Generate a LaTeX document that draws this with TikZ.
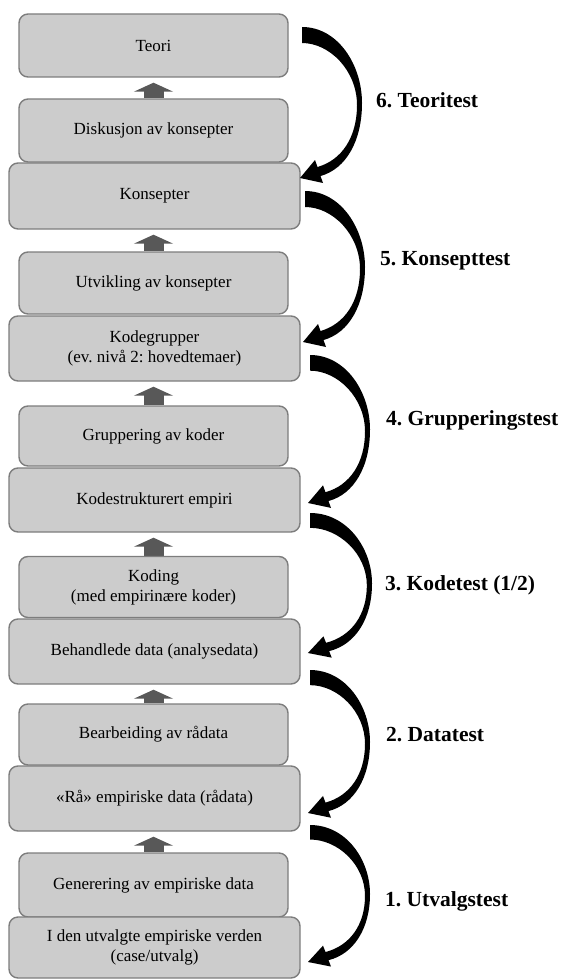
\documentclass[tikz,border=0pt]{standalone}
\usepackage{fontspec}
\setmainfont{Liberation Serif}
\usetikzlibrary{arrows.meta,calc,backgrounds}
\frenchspacing
\definecolor{boxfill}{RGB}{204,204,204}
\definecolor{boxline}{RGB}{125,125,125}
\definecolor{uparr}{RGB}{88,88,88}
\tikzset{
 stepbox/.style={draw=boxline, fill=boxfill, line width=1.4pt, rounded corners=9pt, align=center, font=\fontsize{17}{20}\selectfont, inner sep=0pt},
 narrowbox/.style={stepbox, minimum width=269pt, minimum height=62pt},
 widebox/.style={stepbox, minimum width=291pt, minimum height=65pt},
 uparrow/.style={draw=uparr, line width=20pt, -{Triangle[width=39pt,length=9pt]}, shorten >=5pt},
 testlabel/.style={anchor=base west, font=\bfseries\fontsize{21.5}{24}\selectfont, inner sep=0pt},
 bigarrow/.style={fill=black}
}
\newcommand\bigcurve[4]{%
 \pgfmathsetmacro\bcsx{(#4-#1)/60}%
 \pgfmathsetmacro\bcsy{(#3-#2)/151}%
 \fill[bigarrow, shift={(#1,#2)}, xscale=\bcsx, yscale=\bcsy]
  (0,0) .. controls (36,0) and (60,38) .. (60,76)
  .. controls (60,114) and (44,142) .. (18.5,149)
  -- (21,156) -- (-2,151) -- (13,133) -- (15.5,140)
  .. controls (40,133) and (55,110) .. (55,78)
  .. controls (55,44) and (28,16) .. (0,16) -- cycle;}
\begin{document}
\begin{tikzpicture}[x=1pt,y=-1pt]
\useasboundingbox (0,0) rectangle (565,979);
% narrow boxes
\node[narrowbox, minimum height=63pt] (teori) at (153.5,45.5) {Teori};
\node[narrowbox, minimum height=63pt] (diskusjon) at (153.5,130.5) {Diskusjon av konsepter};
\node[narrowbox] (utvikling) at (153.5,283) {Utvikling av konsepter};
\node[narrowbox, minimum height=60pt] (gruppering) at (153.5,436) {Gruppering av koder};
\node[narrowbox, minimum height=61pt] (koding) at (153.5,587) {Koding\\(med empirinære koder)};
\node[narrowbox, minimum height=61pt] (bearbeiding) at (153.5,734.5) {Bearbeiding av rådata};
\node[narrowbox, minimum height=64pt] (generering) at (153.5,885) {Generering av empiriske data};
% wide boxes
\node[widebox, minimum height=66pt] (konsepter) at (154.5,196) {Konsepter};
\node[widebox] (kodegrupper) at (154.5,348.5) {Kodegrupper\\(ev. nivå 2: hovedtemaer)};
\node[widebox, minimum height=64pt] (kodestrukturert) at (154.5,500) {Kodestrukturert empiri};
\node[widebox] (behandlede) at (154.5,651.5) {Behandlede data (analysedata)};
\node[widebox] (raa) at (154.5,798.5) {«Rå» empiriske data (rådata)};
\node[widebox, minimum height=61pt] (utvalgte) at (154.5,947.5) {I den utvalgte empiriske verden\\(case/utvalg)};
% small up arrows
\begin{scope}[on background layer]
\draw[uparrow] (diskusjon.north) -- (diskusjon.north |- teori.south);
\draw[uparrow] (utvikling.north) -- (utvikling.north |- konsepter.south);
\draw[uparrow] (gruppering.north) -- (gruppering.north |- kodegrupper.south);
\draw[uparrow] (koding.north) -- (koding.north |- kodestrukturert.south);
\draw[uparrow] (bearbeiding.north) -- (bearbeiding.north |- behandlede.south);
\draw[uparrow] (generering.north) -- (generering.north |- raa.south);
\end{scope}
% big curved arrows (start x, start y, tip y, bulge x)
\bigcurve{302}{27}{178}{362}
\bigcurve{305}{191}{342}{365}
\bigcurve{310}{355}{503}{370}
\bigcurve{310}{513}{653}{372}
\bigcurve{310}{670}{813}{370}
\bigcurve{310}{825}{962}{370}
% labels
\node[testlabel] (l6) at (376,107) {6. Teoritest};
\node[testlabel] (l5) at (380,265) {5. Konsepttest};
\node[testlabel] (l4) at (386,425) {4. Grupperingstest};
\node[testlabel] (l3) at (385,590) {3. Kodetest (1/2)};
\node[testlabel] (l2) at (386,741) {2. Datatest};
\node[testlabel] (l1) at (385,906) {1. Utvalgstest};
\end{tikzpicture}
\end{document}
